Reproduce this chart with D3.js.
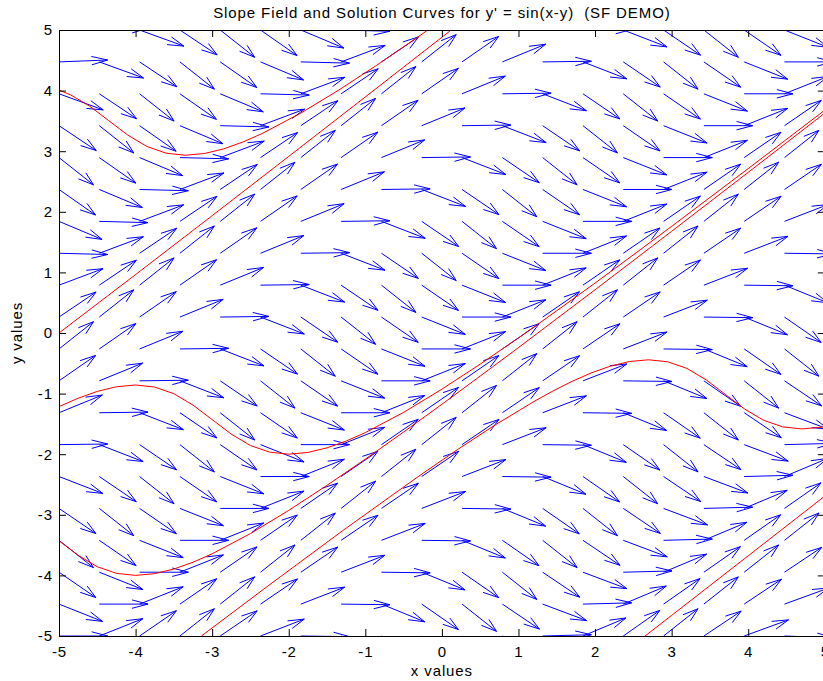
<!DOCTYPE html>
<html><head><meta charset="utf-8">
<script src="https://cdn.jsdelivr.net/npm/d3@7"></script>
<style>
body{margin:0;background:#fff;}
svg text{font-family:"Liberation Sans",Arial,Helvetica,sans-serif;fill:#000;letter-spacing:0.9px;white-space:pre;}
</style>
</head><body>
<svg id="chart" width="823" height="681"></svg>
<script>
// ---------- data ----------
const titleText = "Slope Field and Solution Curves for y' = sin(x-y)  (SF DEMO)";
const xLabel = "x values";
const yLabel = "y values";
const xTicks = [-5,-4,-3,-2,-1,0,1,2,3,4,5];
const yTicks = [-5,-4,-3,-2,-1,0,1,2,3,4,5];

// 20 x 20 grid of slope-field sample points
const gridX = [-5,-4.4737,-3.9474,-3.4211,-2.8947,-2.3684,-1.8421,-1.3158,-0.7895,-0.2632,
               0.2632,0.7895,1.3158,1.8421,2.3684,2.8947,3.4211,3.9474,4.4737,5];
const gridY = [-5,-4.4737,-3.9474,-3.4211,-2.8947,-2.3684,-1.8421,-1.3158,-0.7895,-0.2632,
               0.2632,0.7895,1.3158,1.8421,2.3684,2.8947,3.4211,3.9474,4.4737,5];
// slope y' at grid point (i,j) depends only on x-y, i.e. on k = i - j (k = -19 .. 19)
const slopeByOffset = [
  0.5440, 0.0489,-0.4599,-0.8435,-0.9992,-0.8844,-0.5303,-0.0326, 0.4739, 0.8522,
  0.9997, 0.8767, 0.5164, 0.0163,-0.4882,-0.8606,-1.0000,-0.8688,-0.5024, 0.0000,
  0.5024, 0.8688, 1.0000, 0.8606, 0.4882,-0.0163,-0.5164,-0.8767,-0.9997,-0.8522,
 -0.4739, 0.0326, 0.5303, 0.8844, 0.9992, 0.8435, 0.4599,-0.0489,-0.5440];

// solution curves [x, y]
const curveA = [[-5,4.007],[-4.85,3.931],[-4.6,3.744],[-4.35,3.504],[-4.1,3.264],[-3.85,3.077],
  [-3.6,2.967],[-3.35,2.933],[-3.1,2.962],[-2.85,3.038],[-2.6,3.151],[-2.35,3.290],[-1.85,3.623],
  [-1.35,4.006],[-0.85,4.419],[-0.35,4.852],[-0.1,5.075]];
const curveB = [[-5,0.000],[-4,0.964],[-3,1.936],[-2,2.914],[-1,3.895],[0,4.880],[0.3,5.176]];
const curveC = [[-5,-1.215],[-4.75,-1.076],[-4.5,-0.964],[-4.25,-0.887],[-4,-0.858],[-3.75,-0.892],
  [-3.5,-1.002],[-3.25,-1.189],[-3,-1.429],[-2.75,-1.669],[-2.5,-1.857],[-2.25,-1.966],[-2,-2.000],
  [-1.75,-1.971],[-1.5,-1.895],[-1.25,-1.783],[-1,-1.644],[-0.5,-1.310],[0,-0.927],[0.5,-0.514],
  [1,-0.081],[1.5,0.367],[2,0.824],[2.5,1.289],[3,1.760],[4,2.713],[5,3.678]];
const curveD = [[-5,-3.429],[-4.75,-3.669],[-4.5,-3.857],[-4.25,-3.966],[-4,-4.000],[-3.75,-3.971],
  [-3.5,-3.895],[-3.25,-3.783],[-3,-3.644],[-2.5,-3.310],[-2,-2.927],[-1.5,-2.514],[-1,-2.081],
  [-0.5,-1.634],[0,-1.176],[0.5,-0.711],[1,-0.241],[2,0.713],[3,1.678],[4,2.651],[5,3.629]];
const curveE = [[-3.14,-5.000],[-2.3,-4.201],[-1.3,-3.266],[-0.3,-2.361],[0.2,-1.927],[0.7,-1.514],
  [1.2,-1.132],[1.45,-0.957],[1.7,-0.798],[1.95,-0.659],[2.2,-0.547],[2.45,-0.470],[2.7,-0.442],
  [2.95,-0.475],[3.2,-0.585],[3.45,-0.772],[3.7,-1.012],[3.95,-1.252],[4.2,-1.440],[4.45,-1.549],
  [4.7,-1.583],[4.95,-1.555],[5,-1.543]];
const curveF = [[2.6,-5.052],[3,-4.660],[4,-3.677],[5,-2.691]];
const curves = [curveA, curveB, curveC, curveD, curveE, curveF];

// ---------- layout ----------
const plot = {left: 59, right: 824.8, top: 30, bottom: 636};
const fontSize = 15;
const svg = d3.select("#chart");

const x = d3.scaleLinear().domain([-5, 5]).range([plot.left, plot.right]);
const y = d3.scaleLinear().domain([-5, 5]).range([plot.bottom, plot.top]);

svg.append("defs").append("clipPath").attr("id", "plotclip")
  .append("rect").attr("x", plot.left).attr("y", plot.top)
  .attr("width", plot.right - plot.left).attr("height", plot.bottom - plot.top);

// ---------- quiver (MATLAB-style autoscaled arrows) ----------
const nx = gridX.length, ny = gridY.length;
const delx = (d3.max(gridX) - d3.min(gridX)) / nx;
const dely = (d3.max(gridY) - d3.min(gridY)) / ny;
const autoscale = 0.9 * Math.sqrt(delx * delx + dely * dely);
const alpha = 0.33, beta = 0.33;

const arrows = [];
gridX.forEach((gx, i) => {
  gridY.forEach((gy, j) => {
    const s = slopeByOffset[i - j + 19];
    const n = Math.sqrt(1 + s * s);
    arrows.push({gx, gy, u: autoscale / n, v: autoscale * s / n});
  });
});

const arrowPath = d => {
  const tx = d.gx + d.u, ty = d.gy + d.v;
  const h1x = tx - alpha * (d.u + beta * d.v), h1y = ty - alpha * (d.v - beta * d.u);
  const h2x = tx - alpha * (d.u - beta * d.v), h2y = ty - alpha * (d.v + beta * d.u);
  return `M${x(d.gx)},${y(d.gy)}L${x(tx)},${y(ty)}` +
         `M${x(h1x)},${y(h1y)}L${x(tx)},${y(ty)}L${x(h2x)},${y(h2y)}`;
};

const field = svg.append("g").attr("clip-path", "url(#plotclip)");
field.selectAll("path.arrow").data(arrows).join("path")
  .attr("class", "arrow")
  .attr("d", arrowPath)
  .attr("fill", "none")
  .attr("stroke", "#0000ff")
  .attr("stroke-width", 1);

// ---------- solution curves ----------
const line = d3.line().x(d => x(d[0])).y(d => y(d[1]));
field.selectAll("path.curve").data(curves).join("path")
  .attr("class", "curve")
  .attr("d", line)
  .attr("fill", "none")
  .attr("stroke", "#ff0000")
  .attr("stroke-width", 1);

// ---------- axes ----------
const tickLen = 7;
const fmt = d => String(d);
function styleAxis(g) {
  g.attr("font-size", fontSize).attr("font-family", null);
  g.selectAll(".domain").attr("stroke", "#000").attr("stroke-width", 1);
  g.selectAll(".tick line").attr("stroke", "#000").attr("stroke-width", 1);
}
svg.append("g").attr("transform", `translate(0,${plot.bottom})`)
  .call(d3.axisBottom(x).tickValues(xTicks).tickFormat(fmt)
        .tickSizeInner(-tickLen).tickSizeOuter(0).tickPadding(10))
  .call(styleAxis);
svg.append("g").attr("transform", `translate(0,${plot.top})`)
  .call(d3.axisTop(x).tickValues(xTicks).tickFormat("")
        .tickSizeInner(-tickLen).tickSizeOuter(0))
  .call(styleAxis);
svg.append("g").attr("transform", `translate(${plot.left},0)`)
  .call(d3.axisLeft(y).tickValues(yTicks).tickFormat(fmt)
        .tickSizeInner(-tickLen).tickSizeOuter(0).tickPadding(6))
  .call(styleAxis);
svg.append("g").attr("transform", `translate(${plot.right},0)`)
  .call(d3.axisRight(y).tickValues(yTicks).tickFormat("")
        .tickSizeInner(-tickLen).tickSizeOuter(0))
  .call(styleAxis);

// ---------- titles ----------
svg.append("text").attr("x", (plot.left + plot.right) / 2).attr("y", 18)
  .attr("text-anchor", "middle").attr("font-size", fontSize).text(titleText);
svg.append("text").attr("x", (plot.left + plot.right) / 2).attr("y", 676)
  .attr("text-anchor", "middle").attr("font-size", fontSize).text(xLabel);
svg.append("text").attr("transform", `translate(22,${(plot.top + plot.bottom) / 2}) rotate(-90)`)
  .attr("text-anchor", "middle").attr("font-size", fontSize).text(yLabel);
</script>
</body></html>
